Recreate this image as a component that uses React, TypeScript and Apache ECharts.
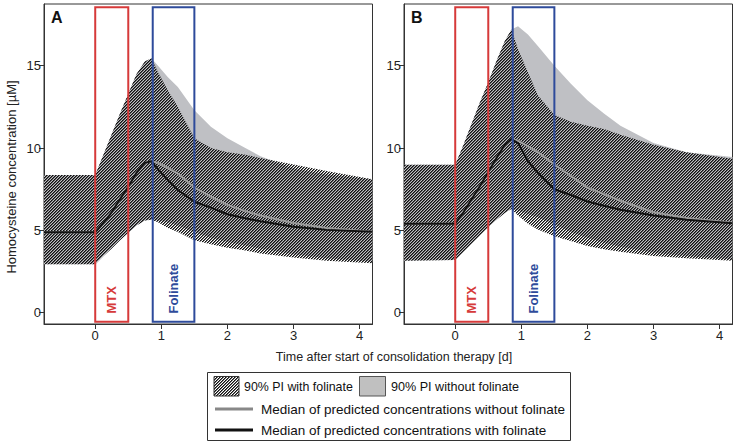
import React, { useEffect, useRef } from 'react';
import * as echarts from 'echarts';

// ---- data ----
const xDays = [-0.775, 0, 0.125, 0.25, 0.375, 0.5, 0.625, 0.75, 0.85, 0.95, 1.1, 1.25, 1.5, 1.75, 2, 2.25, 2.5, 3, 3.5, 4.195];

// Panel A
const aUpperWith = [8.36, 8.36, 9.6, 10.85, 12.1, 13.3, 14.5, 15.25, 15.45, 14.6, 13.5, 12.5, 10.6, 10.0, 9.75, 9.6, 9.4, 9.0, 8.6, 8.1];
const aLowerWith = [2.95, 2.95, 3.45, 3.9, 4.4, 4.85, 5.3, 5.6, 5.65, 5.5, 5.15, 4.9, 4.4, 4.15, 3.95, 3.8, 3.6, 3.35, 3.15, 3.0];
const aUpperWithout = [8.36, 8.36, 9.6, 10.85, 12.1, 13.3, 14.5, 15.25, 15.45, 15.0, 14.3, 13.7, 12.3, 11.3, 10.6, 10.05, 9.5, 8.75, 8.4, 8.1];
const aLowerWithout = [2.95, 2.95, 3.45, 3.9, 4.4, 4.85, 5.3, 5.6, 5.65, 5.6, 5.5, 5.3, 4.9, 4.55, 4.3, 4.1, 3.9, 3.55, 3.3, 3.1];
const aMedianWith = [4.88, 4.88, 5.45, 6.1, 6.9, 7.65, 8.5, 9.1, 9.2, 8.7, 8.05, 7.45, 6.74, 6.38, 5.98, 5.75, 5.55, 5.22, 5.03, 4.92];
const aMedianWithout = [4.88, 4.88, 5.45, 6.1, 6.9, 7.65, 8.5, 9.1, 9.2, 9.1, 8.8, 8.45, 7.6, 7.05, 6.55, 6.2, 5.9, 5.45, 5.15, 4.92];

// Panel B
const bUpperWith = [8.99, 8.99, 10.2, 11.5, 12.8, 14.0, 15.3, 16.5, 17.2, 16.0, 14.6, 13.2, 12.0, 11.6, 11.35, 11.15, 10.8, 10.2, 9.75, 9.35];
const bLowerWith = [3.15, 3.2, 3.7, 4.2, 4.7, 5.2, 5.65, 6.05, 6.3, 5.9, 5.4, 5.05, 4.65, 4.35, 4.05, 3.85, 3.7, 3.45, 3.3, 3.15];
const bUpperWithout = [8.99, 8.99, 10.2, 11.5, 12.8, 14.0, 15.3, 16.5, 17.2, 17.4, 16.9, 16.2, 15.0, 13.9, 12.9, 12.1, 11.35, 10.3, 9.75, 9.45];
const bLowerWithout = [3.15, 3.2, 3.7, 4.2, 4.7, 5.2, 5.65, 6.05, 6.3, 6.2, 6.0, 5.8, 5.35, 4.9, 4.55, 4.25, 4.0, 3.65, 3.45, 3.25];
const bMedianWith = [5.4, 5.4, 6.1, 6.9, 7.7, 8.55, 9.4, 10.2, 10.55, 10.3, 9.2, 8.5, 7.5, 7.15, 6.75, 6.5, 6.25, 5.9, 5.65, 5.43];
const bMedianWithout = [5.4, 5.4, 6.1, 6.9, 7.7, 8.55, 9.4, 10.2, 10.55, 10.45, 10.1, 9.75, 9.0, 8.3, 7.6, 7.2, 6.8, 6.1, 5.75, 5.47];

// Dosing windows
const windowLabels = ['MTX', 'Folinate'];
const windowStarts = [0, 0.87];
const windowEnds = [0.5, 1.5];
const windowColors = ['#d63a3a', '#2e4b9b'];
const windowYRange = [-0.55, 18.55];

const xTicks = [0, 1, 2, 3, 4];
const yTicks = [0, 5, 10, 15];
const panelLetters = ['A', 'B'];

const FONT = '"Liberation Sans", Arial, sans-serif';

function makeHatch(): HTMLCanvasElement {
  const c = document.createElement('canvas');
  c.width = 3;
  c.height = 3;
  const ctx = c.getContext('2d')!;
  const img = ctx.createImageData(3, 3);
  for (let y = 0; y < 3; y++) {
    for (let x = 0; x < 3; x++) {
      const d = (x + y) % 3;
      const i = (y * 3 + x) * 4;
      img.data[i] = 15;
      img.data[i + 1] = 15;
      img.data[i + 2] = 15;
      img.data[i + 3] = d === 2 ? 255 : d === 0 ? 150 : 0;
    }
  }
  ctx.putImageData(img, 0, 0);
  return c;
}

export default function App() {
  const ref = useRef<HTMLDivElement>(null);
  useEffect(() => {
    if (!ref.current) return;
    const chart = echarts.init(ref.current, null, { renderer: 'svg' });
    const hatch = makeHatch();
    const hatchFill = { image: hatch, repeat: 'repeat' } as any;
    const grayFill = '#bfc0c4';

    const panels = [
      { uw: aUpperWith, lw: aLowerWith, uo: aUpperWithout, lo: aLowerWithout, mw: aMedianWith, mo: aMedianWithout },
      { uw: bUpperWith, lw: bLowerWith, uo: bUpperWithout, lo: bLowerWithout, mw: bMedianWith, mo: bMedianWithout },
    ];

    const band = (i: number, lower: number[], upper: number[], fill: any, z: number) => ({
      type: 'custom', xAxisIndex: i, yAxisIndex: i, z, silent: true,
      encode: { x: 0, y: [1, 2] },
      data: xDays.map((x, k) => [x, lower[k], upper[k]]),
      renderItem: (params: any, api: any) => {
        if (params.dataIndexInside !== 0) return null;
        const n = params.dataInsideLength;
        const top: number[][] = [];
        const bot: number[][] = [];
        for (let k = 0; k < n; k++) {
          const x = api.value(0, k);
          top.push(api.coord([x, api.value(2, k)]));
          bot.push(api.coord([x, api.value(1, k)]));
        }
        return {
          type: 'polygon',
          shape: { points: top.concat(bot.reverse()) },
          style: { fill, stroke: 'none' },
        };
      },
    });

    const gridLefts = [44, 404];
    const series: any[] = [];
    panels.forEach((p, i) => {
      const ax = { xAxisIndex: i, yAxisIndex: i };
      series.push(band(i, p.lo, p.uo, grayFill, 1));
      series.push(band(i, p.lw, p.uw, hatchFill, 2));
      series.push({
        type: 'line', ...ax, symbol: 'none', silent: true, z: 5,
        lineStyle: { color: '#9c9c9c', width: 2 },
        data: xDays.map((x, k) => [x, p.mo[k]]),
      });
      series.push({
        type: 'line', ...ax, symbol: 'none', silent: true, z: 6,
        lineStyle: { color: '#111111', width: 2 },
        data: xDays.map((x, k) => [x, p.mw[k]]),
      });
      series.push({
        type: 'custom', ...ax, z: 10, silent: true,
        encode: { x: [0, 1] },
        data: windowLabels.map((_, k) => [windowStarts[k], windowEnds[k], k]),
        renderItem: (params: any, api: any) => {
          const x0 = api.value(0);
          const x1 = api.value(1);
          const k = api.value(2);
          const p0 = api.coord([x0, windowYRange[1]]);
          const p1 = api.coord([x1, windowYRange[0]]);
          const lab = api.coord([(x0 + x1) / 2, -0.05]);
          const col = windowColors[k];
          return {
            type: 'group',
            children: [
              {
                type: 'rect',
                shape: { x: p0[0], y: p0[1], width: p1[0] - p0[0], height: p1[1] - p0[1] },
                style: { fill: 'none', stroke: col, lineWidth: 2 },
              },
              {
                type: 'text', x: lab[0], y: lab[1], rotation: Math.PI / 2,
                style: {
                  text: windowLabels[k], fill: col, font: `bold 13px ${FONT}`,
                  align: 'left', verticalAlign: 'middle',
                },
              },
            ],
          };
        },
      });
    });

    const grids = gridLefts.map((l) => ({
      left: l, top: 4, width: 328.5, height: 320,
      show: true, borderColor: '#333', borderWidth: 1, backgroundColor: 'transparent',
    }));

    const xAxes = gridLefts.map((_, i) => ({
      type: 'value', gridIndex: i, min: -0.775, max: 4.195,
      axisLine: { show: true, onZero: false, lineStyle: { color: '#333', width: 1 } },
      axisTick: { show: true, length: 5, customValues: xTicks, lineStyle: { color: '#333' } },
      axisLabel: { customValues: xTicks, fontSize: 13, color: '#222', margin: 5, fontFamily: FONT },
      splitLine: { show: false },
    }));
    const yAxes = gridLefts.map((_, i) => ({
      type: 'value', gridIndex: i, min: -0.686, max: 18.747,
      axisLine: { show: true, onZero: false, lineStyle: { color: '#333', width: 1 } },
      axisTick: { show: true, length: 5, customValues: yTicks, lineStyle: { color: '#333' } },
      axisLabel: { customValues: yTicks, fontSize: 13, color: '#222', margin: 3, fontFamily: FONT },
      splitLine: { show: false },
    }));

    const legendText = (x: number, y: number, t: string, size: number) => ({
      type: 'text', x, y,
      style: { text: t, fill: '#111', font: `${size}px ${FONT}`, align: 'left', verticalAlign: 'middle' },
    });

    const graphic: any[] = [
      ...panelLetters.map((t, i) => ({
        type: 'text', x: gridLefts[i] + 7, y: 17.5,
        style: { text: t, fill: '#111', font: `bold 16px ${FONT}`, align: 'left', verticalAlign: 'middle' },
      })),
      {
        type: 'text', x: 11, y: 177, rotation: Math.PI / 2,
        style: { text: 'Homocysteine concentration [µM]', fill: '#222', font: `13px ${FONT}`, align: 'center', verticalAlign: 'middle' },
      },
      {
        type: 'text', x: 394, y: 357,
        style: { text: 'Time after start of consolidation therapy [d]', fill: '#222', font: `12.5px ${FONT}`, align: 'center', verticalAlign: 'middle' },
      },
      {
        type: 'rect', shape: { x: 207.5, y: 372.5, width: 363, height: 68 },
        style: { fill: '#fff', stroke: '#333', lineWidth: 1 },
      },
      {
        type: 'rect', shape: { x: 214, y: 376.5, width: 25, height: 19.5 },
        style: { fill: hatchFill, stroke: '#333', lineWidth: 1 },
      },
      legendText(244, 387, '90% PI with folinate', 12.4),
      {
        type: 'rect', shape: { x: 359.5, y: 376.5, width: 26, height: 19.5 },
        style: { fill: '#c0c0c0', stroke: '#555', lineWidth: 1 },
      },
      legendText(391, 387, '90% PI without folinate', 12.6),
      { type: 'line', shape: { x1: 215, y1: 409, x2: 253, y2: 409 }, style: { stroke: '#888', lineWidth: 3 } },
      legendText(261, 409, 'Median of predicted concentrations without folinate', 13.5),
      { type: 'line', shape: { x1: 215, y1: 430, x2: 253, y2: 430 }, style: { stroke: '#111', lineWidth: 3 } },
      legendText(261, 430, 'Median of predicted concentrations with folinate', 13.5),
    ];

    chart.setOption({
      animation: false,
      backgroundColor: '#fff',
      textStyle: { fontFamily: FONT },
      grid: grids,
      xAxis: xAxes,
      yAxis: yAxes,
      series,
      graphic,
    });
    return () => chart.dispose();
  }, []);
  return <div ref={ref} style={{ position: 'fixed', left: 0, top: 0, width: 738, height: 445 }} />;
}
